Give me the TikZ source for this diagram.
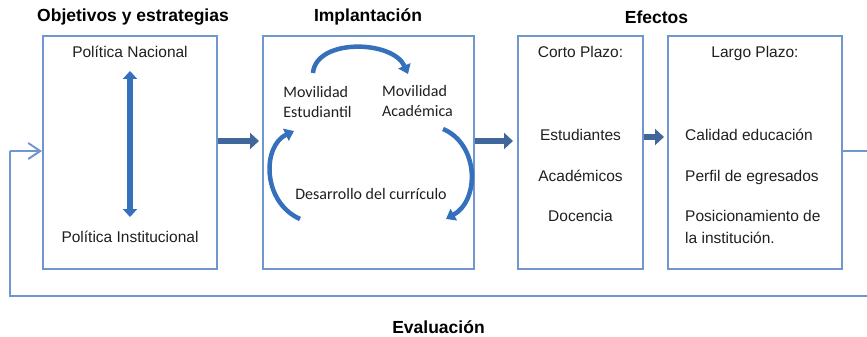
\documentclass[tikz,border=0pt]{standalone}
\usepackage{fontspec}
\setmainfont{Liberation Sans}
\newfontfamily\calfont{Carlito}
\usetikzlibrary{arrows.meta}
\definecolor{boxblue}{RGB}{112,150,208}
\definecolor{darkarrow}{RGB}{64,102,156}
\definecolor{curveblue}{RGB}{52,112,188}
\begin{document}
\begin{tikzpicture}[x=1pt,y=-1pt,
  panel/.style={draw=boxblue,line width=2pt,minimum height=233pt,inner sep=0pt},
  txt/.style={font=\fontsize{15.5}{20}\selectfont,text=black!88,inner sep=0pt},
  ctxt/.style={font=\calfont\fontsize{16}{20}\selectfont,text=black!88,inner sep=0pt,align=left},
  ttl/.style={font=\bfseries\fontsize{17.5}{20}\selectfont,text=black,inner sep=0pt},
  fat/.style={draw=darkarrow,line width=6.5pt,-{Triangle[length=9pt,width=16pt]}},
  dbl/.style={draw=curveblue,line width=6pt,{Triangle[length=8pt,width=14pt]}-{Triangle[length=8pt,width=14pt]}},
  arc/.style={draw=curveblue,line width=4.5pt,-{Triangle[length=9pt,width=13pt]}},
  fb/.style={draw=boxblue,line width=2pt}
]
\useasboundingbox (0,0) rectangle (867,337);

% titles
\node[ttl] (t1) at (133,17) {Objetivos y estrategias};
\node[ttl] (t2) at (368,17) {Implantación};
\node[ttl] (t3) at (656.5,17) {Efectos};
\node[ttl] (t4) at (438.5,327) {Evaluación};

% panels
\node[panel,minimum width=174pt] (b1) at (130,152.5) {};
\node[panel,minimum width=211pt] (b2) at (368.5,152.5) {};
\node[panel,minimum width=125pt] (b3) at (580.5,152.5) {};
\node[panel,minimum width=174pt] (b4) at (755,152.5) {};

% panel 1
\node[txt,anchor=mid] (pn) at (130,55) {Política Nacional};
\node[txt,anchor=mid] (pi) at (130,240) {Política Institucional};
\draw[dbl,shorten <=13pt,shorten >=14pt] (pn.south) -- (pi.north);

% panel 2
\node[ctxt] (ms) at (317.5,102) {Movilidad\\Estudiantil};
\node[ctxt] (ma) at (417.5,101) {Movilidad\\Académica};
\node[ctxt,anchor=mid] (dc) at (371,197) {Desarrollo del currículo};
\coordinate (a1s) at (313,73);
\coordinate (a1e) at (408,74);
\coordinate (a2s) at (300,219);
\coordinate (a2e) at (294,131);
\coordinate (a3s) at (443,129);
\coordinate (a3e) at (446,219);
\draw[arc] (a1s) .. controls (316,38) and (393,40) .. (a1e);
\draw[arc] (a2s) .. controls (262,202) and (262,146) .. (a2e);
\draw[arc] (a3s) .. controls (479,144) and (480,200) .. (a3e);

% panel 3
\node[txt,anchor=mid] (cp) at (580.5,55) {Corto Plazo:};
\node[txt,anchor=mid] (e1) at (580.5,138) {Estudiantes};
\node[txt,anchor=mid] (e2) at (580.5,179) {Académicos};
\node[txt,anchor=mid] (e3) at (580.5,219) {Docencia};

% panel 4
\node[txt,anchor=mid] (lp) at (755,55) {Largo Plazo:};
\node[txt,anchor=mid west] (l1) at (685,138) {Calidad educación};
\node[txt,anchor=mid west] (l2) at (685,179) {Perfil de egresados};
\node[txt,anchor=mid west] (l3) at (685,219) {Posicionamiento de};
\node[txt,anchor=mid west] (l4) at (685,241) {la institución.};

% fat arrows between panels
\draw[fat,shorten >=3pt] ([yshift=11.5pt]b1.east) -- ([yshift=11.5pt]b2.west);
\draw[fat,shorten >=4pt] ([yshift=11.5pt]b2.east) -- ([yshift=11.5pt]b3.west);
\draw[fat,shorten >=3pt] ([yshift=15.5pt]b3.east) -- ([yshift=15.5pt]b4.west);

% feedback loop
\coordinate (r1) at (870,151);
\coordinate (r2) at (870,296);
\coordinate (r3) at (10,296);
\coordinate (r4) at (10,151);
\draw[fb] ([yshift=1.5pt]b4.east) -- (r1) -- (r2) -- (r3) -- (r4);
\draw[fb,-{Straight Barb[length=12pt,width=16pt,line width=2pt]}] (r4) -- ([yshift=1.5pt]b1.west);
\end{tikzpicture}
\end{document}
